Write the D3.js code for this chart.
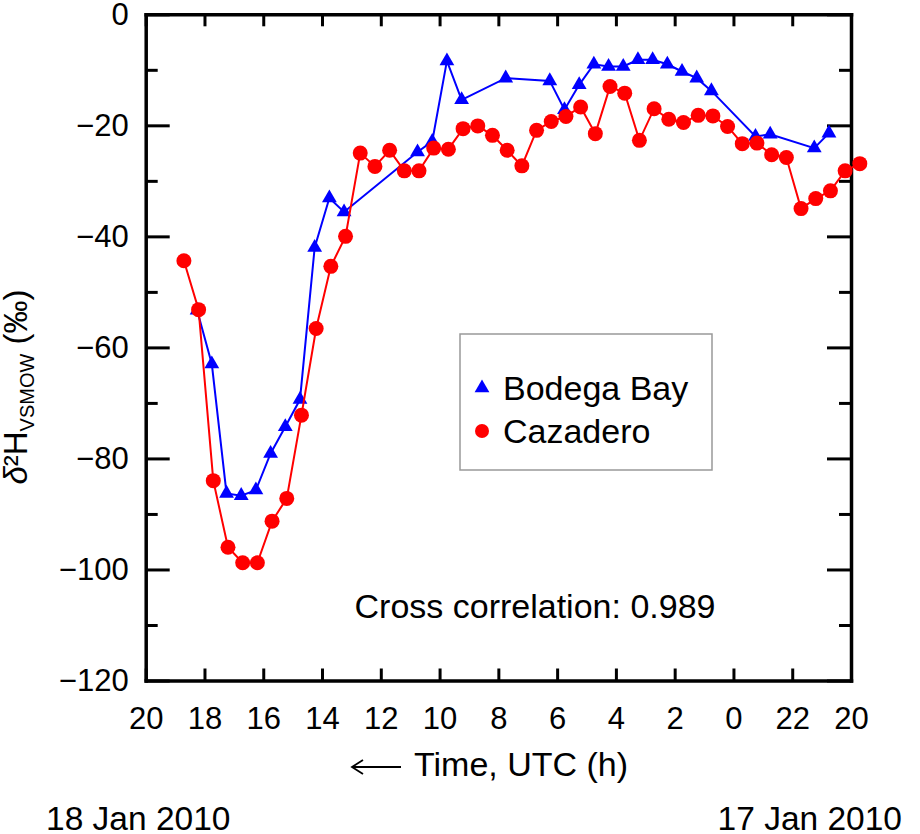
<!DOCTYPE html>
<html>
<head>
<meta charset="utf-8">
<script src="https://cdn.jsdelivr.net/npm/d3@7"></script>
<style>
  body { margin: 0; background: #fff; }
  text { font-family: "Liberation Sans", Arial, Helvetica, sans-serif; fill: #000; }
</style>
</head>
<body>
<div id="chart"></div>
<script>
// Cazadero, red circles (UTC time, delta 2H in permil)
let cazTimes = [
  "2010-01-18 18:42", "2010-01-18 18:12", "2010-01-18 17:42", "2010-01-18 17:12",
  "2010-01-18 16:42", "2010-01-18 16:12", "2010-01-18 15:42", "2010-01-18 15:12",
  "2010-01-18 14:42", "2010-01-18 14:12", "2010-01-18 13:42", "2010-01-18 13:12",
  "2010-01-18 12:42", "2010-01-18 12:12", "2010-01-18 11:42", "2010-01-18 11:12",
  "2010-01-18 10:42", "2010-01-18 10:12", "2010-01-18 09:42", "2010-01-18 09:12",
  "2010-01-18 08:42", "2010-01-18 08:12", "2010-01-18 07:42", "2010-01-18 07:12",
  "2010-01-18 06:42", "2010-01-18 06:12", "2010-01-18 05:42", "2010-01-18 05:12",
  "2010-01-18 04:42", "2010-01-18 04:12", "2010-01-18 03:42", "2010-01-18 03:12",
  "2010-01-18 02:42", "2010-01-18 02:12", "2010-01-18 01:42", "2010-01-18 01:12",
  "2010-01-18 00:42", "2010-01-18 00:12", "2010-01-17 23:42", "2010-01-17 23:12",
  "2010-01-17 22:42", "2010-01-17 22:12", "2010-01-17 21:42", "2010-01-17 21:12",
  "2010-01-17 20:42", "2010-01-17 20:12", "2010-01-17 19:42"
];
let cazValues = [
  -44.4, -53.2, -84.0, -96.0, -98.8, -98.8, -91.3, -87.2,
  -72.2, -56.6, -45.4, -40.0, -25.0, -27.4, -24.5, -28.2,
  -28.2, -24.1, -24.3, -20.6, -20.1, -21.8, -24.5, -27.3,
  -20.9, -19.3, -18.4, -16.7, -21.5, -13.0, -14.2, -22.7,
  -17.0, -18.9, -19.5, -18.2, -18.3, -20.2, -23.3, -23.2,
  -25.3, -25.8, -35.0, -33.2, -31.8, -28.2, -26.9
];

// Bodega Bay, blue triangles
let bodTimes = [
  "2010-01-18 18:15", "2010-01-18 17:45", "2010-01-18 17:15", "2010-01-18 16:45",
  "2010-01-18 16:15", "2010-01-18 15:45", "2010-01-18 15:15", "2010-01-18 14:45",
  "2010-01-18 14:15", "2010-01-18 13:45", "2010-01-18 13:15", "2010-01-18 10:45",
  "2010-01-18 10:15", "2010-01-18 09:45", "2010-01-18 09:15", "2010-01-18 07:45",
  "2010-01-18 06:15", "2010-01-18 05:45", "2010-01-18 05:15", "2010-01-18 04:45",
  "2010-01-18 04:15", "2010-01-18 03:45", "2010-01-18 03:15", "2010-01-18 02:45",
  "2010-01-18 02:15", "2010-01-18 01:45", "2010-01-18 01:15", "2010-01-18 00:45",
  "2010-01-17 23:15", "2010-01-17 22:45", "2010-01-17 21:15", "2010-01-17 20:45"
];
let bodValues = [
  -53.3, -63.0, -86.3, -86.7, -85.7, -79.1, -74.3, -69.4,
  -42.0, -33.1, -35.6, -24.8, -22.9, -8.4, -15.4, -11.5,
  -12.0, -17.2, -12.7, -9.0, -9.4, -9.4, -8.2, -8.2,
  -9.0, -10.3, -11.5, -13.8, -22.0, -21.6, -24.1, -21.4
];

let xStart = "2010-01-18 20:00", xEnd = "2010-01-17 20:00";
let yMajorTicks = [0, -20, -40, -60, -80, -100, -120];
let yMinorTicks = [-10, -30, -50, -70, -90, -110];
let seriesNames = ["Bodega Bay", "Cazadero"];

let W = 920, H = 834;
let plot = {left: 145.7, right: 851, top: 14.3, bottom: 680.5};
let tickFs = 31, fs = 34;

let parse = d3.utcParse("%Y-%m-%d %H:%M");
let caz = cazTimes.map((t, i) => ({t: parse(t), v: cazValues[i]}));
let bod = bodTimes.map((t, i) => ({t: parse(t), v: bodValues[i]}));

let svg = d3.select("#chart").append("svg")
    .attr("width", W)
    .attr("height", H);

let x = d3.scaleUtc()
    .domain([parse(xStart), parse(xEnd)])
    .range([plot.left, plot.right]);

let y = d3.scaleLinear()
    .domain([-120, 0])
    .range([plot.bottom, plot.top]);

// bottom axis with labels, ticks pointing inward
svg.append("g")
    .attr("transform", "translate(0," + plot.bottom + ")")
    .call(d3.axisBottom(x)
        .ticks(d3.utcHour.every(2))
        .tickFormat(d3.utcFormat("%-H"))
        .tickSizeInner(-12).tickSizeOuter(0).tickPadding(26));

// top axis
svg.append("g")
    .attr("transform", "translate(0," + plot.top + ")")
    .call(d3.axisTop(x)
        .ticks(d3.utcHour.every(2))
        .tickFormat("")
        .tickSizeInner(-12).tickSizeOuter(0));

// left axis, major + minor
svg.append("g")
    .attr("transform", "translate(" + plot.left + ",0)")
    .call(d3.axisLeft(y)
        .tickValues(yMajorTicks)
        .tickFormat(d => d < 0 ? "\u2212" + Math.abs(d) : d)
        .tickSizeInner(-24).tickSizeOuter(0).tickPadding(17));

svg.append("g")
    .attr("transform", "translate(" + plot.left + ",0)")
    .call(d3.axisLeft(y).tickValues(yMinorTicks).tickFormat("").tickSizeInner(-12).tickSizeOuter(0))
    .select(".domain").remove();

// right axis
svg.append("g")
    .attr("transform", "translate(" + plot.right + ",0)")
    .call(d3.axisRight(y).tickValues(yMajorTicks).tickFormat("").tickSizeInner(-24).tickSizeOuter(0));

svg.append("g")
    .attr("transform", "translate(" + plot.right + ",0)")
    .call(d3.axisRight(y).tickValues(yMinorTicks).tickFormat("").tickSizeInner(-12).tickSizeOuter(0))
    .select(".domain").remove();

svg.selectAll(".domain").attr("stroke", "#000").attr("stroke-width", 3.5).attr("stroke-linecap", "square");
svg.selectAll(".tick line").attr("stroke", "#000").attr("stroke-width", 3);
svg.selectAll(".tick text")
    .style("font-family", "'Liberation Sans', Arial, sans-serif")
    .style("font-size", tickFs + "px")
    .attr("fill", "#000");

// lines and markers
let line = d3.line().x(d => x(d.t)).y(d => y(d.v));
let tri = d3.symbol().type(d3.symbolTriangle).size(95);

svg.append("path")
    .datum(bod)
    .attr("d", line)
    .attr("fill", "none")
    .attr("stroke", "#0000ff")
    .attr("stroke-width", 2);

svg.append("g").selectAll("path")
    .data(bod)
    .enter()
    .append("path")
        .attr("d", tri)
        .attr("transform", d => "translate(" + x(d.t) + "," + y(d.v) + ")")
        .attr("fill", "#0000ff");

svg.append("path")
    .datum(caz)
    .attr("d", line)
    .attr("fill", "none")
    .attr("stroke", "#ff0000")
    .attr("stroke-width", 2);

svg.append("g").selectAll("circle")
    .data(caz)
    .enter()
    .append("circle")
        .attr("cx", d => x(d.t))
        .attr("cy", d => y(d.v))
        .attr("r", 7.5)
        .attr("fill", "#ff0000");

// legend
svg.append("rect")
    .attr("x", 460).attr("y", 334)
    .attr("width", 252).attr("height", 136)
    .attr("fill", "#fff")
    .attr("stroke", "#999")
    .attr("stroke-width", 1.5);

svg.append("path")
    .attr("d", tri)
    .attr("transform", "translate(482,388)")
    .attr("fill", "#0000ff");
svg.append("circle")
    .attr("cx", 482).attr("cy", 431).attr("r", 7)
    .attr("fill", "#ff0000");

svg.append("text").attr("x", 503).attr("y", 400)
    .style("font-size", fs + "px").text(seriesNames[0]);
svg.append("text").attr("x", 503).attr("y", 443)
    .style("font-size", fs + "px").text(seriesNames[1]);

// annotation
svg.append("text")
    .attr("x", 535).attr("y", 618)
    .attr("text-anchor", "middle")
    .style("font-size", fs + "px")
    .text("Cross correlation: 0.989");

// y label
let yl = svg.append("text")
    .attr("transform", "translate(27,387) rotate(-90)")
    .attr("text-anchor", "middle")
    .style("font-size", "33px");
yl.append("tspan").style("font-style", "italic").text("\u03b4");
yl.append("tspan").text("\u00b2H");
yl.append("tspan").attr("dy", 7).style("font-size", "20px").text("VSMOW");
yl.append("tspan").attr("dy", -7).text(" (\u2030)");

// x label with arrow
svg.append("path")
    .attr("d", "M401,767 H353 M363,760 L352,767 L363,774")
    .attr("fill", "none")
    .attr("stroke", "#000")
    .attr("stroke-width", 1.8);
svg.append("text")
    .attr("x", 414).attr("y", 776)
    .style("font-size", fs + "px")
    .text("Time, UTC (h)");

// dates
svg.append("text")
    .attr("x", 46).attr("y", 830)
    .style("font-size", "33.5px")
    .text("18 Jan 2010");
svg.append("text")
    .attr("x", 902).attr("y", 830)
    .attr("text-anchor", "end")
    .style("font-size", "33.5px")
    .text("17 Jan 2010");
</script>
</body>
</html>
